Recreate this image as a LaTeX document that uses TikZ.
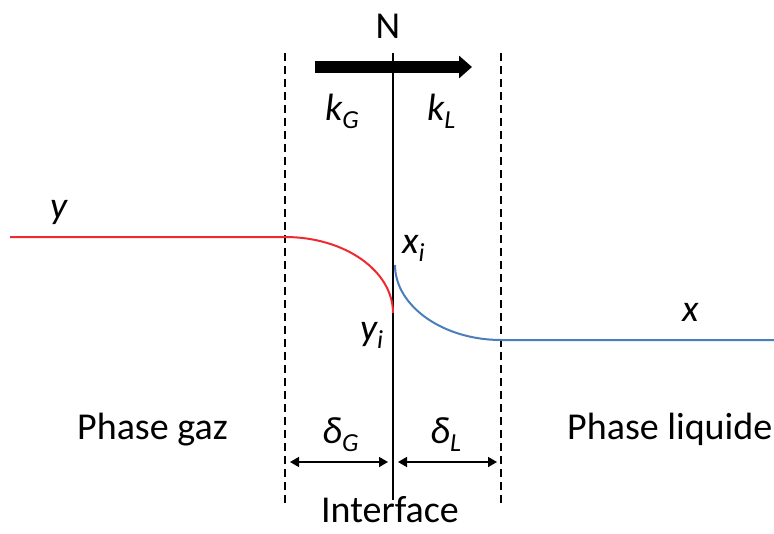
\documentclass[tikz,border=0pt]{standalone}
\usepackage{fontspec}
\setmainfont{Carlito}
\usepackage{tikz}
\usetikzlibrary{arrows.meta}
\definecolor{gasred}{HTML}{EE2A2F}
\definecolor{liqblue}{HTML}{4A7EBB}
\newcommand{\lowsub}[1]{\raisebox{-8pt}{\fontsize{26}{28}\selectfont #1}}

\begin{document}
\begin{tikzpicture}[x=1pt,y=-1pt,
  lbl/.style={font=\fontsize{38}{44}\selectfont,inner sep=0pt,anchor=base},
  sym/.style={font=\fontsize{38}{44}\selectfont\itshape,inner sep=0pt,anchor=base west},
  film/.style={line width=1.8pt,dash pattern=on 8pt off 5pt},
  dimarrow/.style={line width=1.6pt,{Triangle[length=9pt,width=10pt]}-{Triangle[length=9pt,width=10pt]}}]
  \useasboundingbox (0,0) rectangle (774,533);
  % Film positions
  \def\xg{285}  % gas film edge
  \def\xi{393}  % interface
  \def\xl{501}  % liquid film edge
  % Film boundaries and interface
  \coordinate (gtop) at (\xg,53);  \coordinate (gbot) at (\xg,504);
  \coordinate (ltop) at (\xl,53);  \coordinate (lbot) at (\xl,504);
  \coordinate (itop) at (\xi,53);  \coordinate (ibot) at (\xi,500);
  \draw[film] (gtop) -- (gbot);
  \draw[film] (ltop) -- (lbot);
  \draw[line width=1.8pt] (itop) -- (ibot);
  % Flux N
  \node[lbl] (N) at (388,38) {N};
  \coordinate (fluxA) at (315,67);
  \coordinate (fluxB) at (472,67);
  \draw[line width=12pt,-{Triangle[length=13pt,width=22pt]}] (fluxA) -- (fluxB);
  \node[sym] (kG) at (325,120) {k\lowsub{G}};
  \node[sym] (kL) at (427,120) {k\lowsub{L}};
  % Gas profile
  \coordinate (y0) at (10,237);
  \coordinate (y1) at (\xg,237);
  \coordinate (yi) at (\xi,313);
  \draw[gasred,line width=2pt] (y0) -- (y1) .. controls (345,237) and (\xi,271) .. (yi);
  \node[sym] (ylab) at (50,218) {y};
  \node[sym] (yilab) at (360,340) {y\lowsub{i}};
  % Liquid profile
  \coordinate (xi) at (395,265);
  \coordinate (x1) at (\xl,340);
  \coordinate (x0) at (774,340);
  \draw[liqblue,line width=2pt] (xi) .. controls (395,306) and (443,340) .. (x1) -- (x0);
  \node[sym] (xilab) at (402,253) {x\lowsub{i}};
  \node[sym] (xlab) at (682,321) {x};
  % Film thicknesses
  \coordinate (dGa) at (290,462); \coordinate (dGb) at (388,462);
  \coordinate (dLa) at (398,462); \coordinate (dLb) at (497,462);
  \draw[dimarrow] (dGa) -- (dGb);
  \draw[dimarrow] (dLa) -- (dLb);
  \node[sym] (dG) at (322,443) {δ\lowsub{G}};
  \node[sym] (dL) at (430,443) {δ\lowsub{L}};
  % Phases
  \node[lbl,anchor=base west] (gas) at (77,439) {Phase gaz};
  \node[lbl,anchor=base west] (liq) at (567,439) {Phase liquide};
  \node[lbl,text depth=0pt] (iface) at (390,522) {Interface};
\end{tikzpicture}
\end{document}
